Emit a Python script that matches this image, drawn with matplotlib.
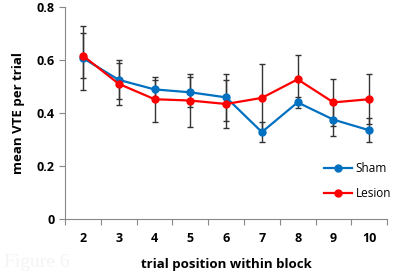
import numpy as np
import matplotlib.pyplot as plt
from matplotlib.lines import Line2D

positions = [2, 3, 4, 5, 6, 7, 8, 9, 10]
sham = [0.607, 0.525, 0.489, 0.478, 0.459, 0.328, 0.44, 0.375, 0.335]
sham_err = [0.12, 0.074, 0.037, 0.057, 0.088, 0.037, 0.022, 0.06, 0.045]
lesion = [0.616, 0.51, 0.452, 0.447, 0.434, 0.457, 0.527, 0.44, 0.452]
lesion_err = [0.084, 0.078, 0.085, 0.1, 0.089, 0.127, 0.09, 0.088, 0.094]

plt.rcParams['font.family'] = ['Open Sans', 'DejaVu Sans']

fig = plt.figure(figsize=(3.97, 2.78), dpi=100)
ax = fig.add_axes([0.164, 0.212, 0.811, 0.763])

ax.errorbar(positions, sham, yerr=sham_err, color='#0070C0', marker='o',
            markersize=5, linewidth=1.6, ecolor='#333333', elinewidth=1,
            capsize=2.5, capthick=1)
ax.errorbar(positions, lesion, yerr=lesion_err, color='#FF0000', marker='o',
            markersize=5, linewidth=1.6, ecolor='#333333', elinewidth=1,
            capsize=2.5, capthick=1)

ax.set_xlim(1.5, 10.5)
ax.set_ylim(0, 0.8)
ax.set_xticks(np.arange(1.5, 11, 1))
ax.set_xticklabels([])
ax.set_xticks(positions, minor=True)
ax.set_xticklabels([str(p) for p in positions], minor=True,
                   fontsize=9, fontweight='bold')
ax.tick_params(axis='x', which='minor', length=0, pad=9)
ax.tick_params(axis='x', which='major', length=4, color='#888888', direction='out')
ax.set_yticks([0, 0.2, 0.4, 0.6, 0.8])
ax.set_yticklabels(['0', '0.2', '0.4', '0.6', '0.8'], fontsize=9, fontweight='bold')
ax.tick_params(axis='y', length=4, color='#888888', direction='out')

for s in ['top', 'right']:
    ax.spines[s].set_visible(False)
for s in ['left', 'bottom']:
    ax.spines[s].set_color('#888888')

ax.set_xlabel('trial position within block', fontsize=9.5, fontweight='bold', labelpad=10)
ax.set_ylabel('mean VTE per trial', fontsize=9.5, fontweight='bold', labelpad=8)

handles = [Line2D([], [], color='#0070C0', marker='o', markersize=5, linewidth=1.6),
           Line2D([], [], color='#FF0000', marker='o', markersize=5, linewidth=1.6)]
ax.legend(handles, ['Sham', 'Lesion'], loc='lower right',
          bbox_to_anchor=(1.045, 0.04), frameon=False,
          fontsize=8.5, handlelength=2.4, handletextpad=0.3, labelspacing=1.0)

fig.text(0.01, 0.04, 'Figure 6', fontsize=14, color='#f4f4f4',
         family='Liberation Serif')

fig.savefig('out.png', dpi=100)
